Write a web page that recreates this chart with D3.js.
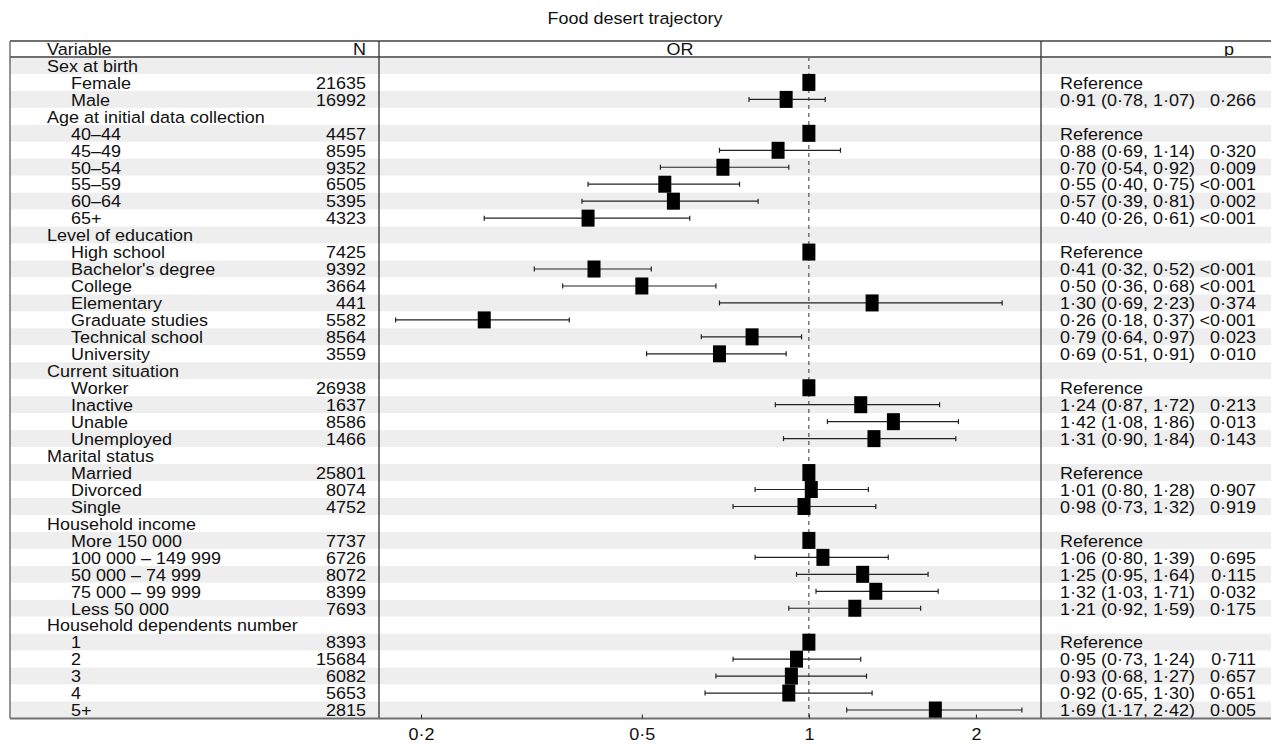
<!DOCTYPE html>
<html>
<head>
<meta charset="utf-8">
<script src="https://cdn.jsdelivr.net/npm/d3@7"></script>
<style>
body { margin: 0; background: #fff; }
text { font-family: "Liberation Sans", Arial, sans-serif; font-size: 16.5px; fill: #111; }
</style>
</head>
<body>
<svg id="chart" width="1271" height="744"></svg>
<script>
// chart data
let groupNames = ["Sex at birth", "Age at initial data collection", "Level of education",
  "Current situation", "Marital status", "Household income", "Household dependents number"];
let levelLabels = ["Female", "Male",
  "40–44", "45–49", "50–54", "55–59", "60–64", "65+",
  "High school", "Bachelor's degree", "College", "Elementary", "Graduate studies", "Technical school", "University",
  "Worker", "Inactive", "Unable", "Unemployed",
  "Married", "Divorced", "Single",
  "More 150 000", "100 000 – 149 999", "50 000 – 74 999", "75 000 – 99 999", "Less 50 000",
  "1", "2", "3", "4", "5+"];
let levelGroup = [0, 0, 1, 1, 1, 1, 1, 1, 2, 2, 2, 2, 2, 2, 2, 3, 3, 3, 3, 4, 4, 4, 5, 5, 5, 5, 5, 6, 6, 6, 6, 6];
let nValues = [21635, 16992, 4457, 8595, 9352, 6505, 5395, 4323,
  7425, 9392, 3664, 441, 5582, 8564, 3559, 26938, 1637, 8586, 1466,
  25801, 8074, 4752, 7737, 6726, 8072, 8399, 7693, 8393, 15684, 6082, 5653, 2815];
let orValues = [1, 0.91, 1, 0.88, 0.70, 0.55, 0.57, 0.40,
  1, 0.41, 0.50, 1.30, 0.26, 0.79, 0.69, 1, 1.24, 1.42, 1.31,
  1, 1.01, 0.98, 1, 1.06, 1.25, 1.32, 1.21, 1, 0.95, 0.93, 0.92, 1.69];
let ciLower = [null, 0.78, null, 0.69, 0.54, 0.40, 0.39, 0.26,
  null, 0.32, 0.36, 0.69, 0.18, 0.64, 0.51, null, 0.87, 1.08, 0.90,
  null, 0.80, 0.73, null, 0.80, 0.95, 1.03, 0.92, null, 0.73, 0.68, 0.65, 1.17];
let ciUpper = [null, 1.07, null, 1.14, 0.92, 0.75, 0.81, 0.61,
  null, 0.52, 0.68, 2.23, 0.37, 0.97, 0.91, null, 1.72, 1.86, 1.84,
  null, 1.28, 1.32, null, 1.39, 1.64, 1.71, 1.59, null, 1.24, 1.27, 1.30, 2.42];
let pValues = ["", "0·266", "", "0·320", "0·009", "<0·001", "0·002", "<0·001",
  "", "<0·001", "<0·001", "0·374", "<0·001", "0·023", "0·010", "", "0·213", "0·013", "0·143",
  "", "0·907", "0·919", "", "0·695", "0·115", "0·032", "0·175", "", "0·711", "0·657", "0·651", "0·005"];
let tickValues = [0.2, 0.5, 1, 2];

// build table rows: group header followed by its levels
let rows = [];
groupNames.forEach(function(g, gi){
  rows.push({ type: "group", label: g });
  levelLabels.forEach(function(l, i){
    if (levelGroup[i] === gi) {
      rows.push({ type: "level", label: l, n: nValues[i], or: orValues[i],
        lo: ciLower[i], hi: ciUpper[i], p: pValues[i] });
    }
  });
});

let fmt = function(v){ return d3.format(".2f")(v).replace(".", "·"); };

let svg = d3.select("#chart");
let W = 1271;
let frameLeft = 10, frameTop = 41, headBottom = 57, frameBottom = 718.5;
let colN = 379, colP = 1041;
let sx = 1.09; // the reference glyphs are a bit wide

let y = d3.scaleBand()
  .domain(d3.range(rows.length))
  .range([headBottom, frameBottom]);

let x = d3.scaleLog()
  .domain([0.168, 2.62])
  .range([colN, colP]);

// put a text with a horizontal stretch
function label(g, str, px, py, anchor){
  return g.append("text")
    .attr("transform", "translate(" + px + "," + py + ") scale(" + sx + ",1)")
    .attr("dy", "0.35em")
    .attr("text-anchor", anchor)
    .text(str);
}

// stripes
svg.append("g").selectAll("rect")
  .data(rows)
  .enter()
  .append("rect")
  .attr("x", frameLeft)
  .attr("y", (d, i) => y(i))
  .attr("width", W - frameLeft)
  .attr("height", y.bandwidth())
  .attr("fill", (d, i) => i % 2 === 0 ? "#eeeeee" : "#ffffff");

// title
label(svg, "Food desert trajectory", 635, 18, "middle");

// header
let head = svg.append("g");
label(head, "Variable", 47, 49, "start");
label(head, "N", 366, 49, "end");
label(head, "OR", 680, 49, "middle");
label(head, "p", 1229, 49, "middle");

// left and right text columns
let body = svg.append("g");
rows.forEach(function(r, i){
  let cy = y(i) + y.bandwidth() / 2 + 0.5;
  if (r.type === "group") {
    label(body, r.label, 47, cy, "start");
    return;
  }
  label(body, r.label, 71, cy, "start");
  label(body, r.n, 366, cy, "end");
  if (r.lo === null) {
    label(body, "Reference", 1060, cy, "start");
  } else {
    label(body, fmt(r.or) + " (" + fmt(r.lo) + ", " + fmt(r.hi) + ")", 1060, cy, "start");
    label(body, r.p, 1256, cy, "end");
  }
});

// reference line at OR = 1
svg.append("line")
  .attr("x1", x(1)).attr("x2", x(1))
  .attr("y1", headBottom).attr("y2", frameBottom)
  .attr("stroke", "#333")
  .attr("stroke-width", 1)
  .attr("stroke-dasharray", "4,4");

// confidence intervals
let levels = rows.map((r, i) => Object.assign({ idx: i }, r)).filter(r => r.type === "level");
let ci = svg.append("g")
  .selectAll("g")
  .data(levels.filter(r => r.lo !== null))
  .enter()
  .append("g")
  .attr("stroke", "#222")
  .attr("stroke-width", 1.2);
ci.append("line")
  .attr("x1", d => x(d.lo)).attr("x2", d => x(d.hi))
  .attr("y1", d => y(d.idx) + y.bandwidth() / 2)
  .attr("y2", d => y(d.idx) + y.bandwidth() / 2);
ci.append("line")
  .attr("x1", d => x(d.lo)).attr("x2", d => x(d.lo))
  .attr("y1", d => y(d.idx) + y.bandwidth() / 2 - 2.5)
  .attr("y2", d => y(d.idx) + y.bandwidth() / 2 + 2.5);
ci.append("line")
  .attr("x1", d => x(d.hi)).attr("x2", d => x(d.hi))
  .attr("y1", d => y(d.idx) + y.bandwidth() / 2 - 2.5)
  .attr("y2", d => y(d.idx) + y.bandwidth() / 2 + 2.5);

// point estimates
svg.append("g")
  .selectAll("rect")
  .data(levels)
  .enter()
  .append("rect")
  .attr("x", d => x(d.or) - 6.5)
  .attr("y", d => y(d.idx) + y.bandwidth() / 2 - 8.5)
  .attr("width", 13)
  .attr("height", 17)
  .attr("fill", "#000");

// frame lines
let frame = svg.append("g");
frame.append("line").attr("x1", frameLeft).attr("x2", W).attr("y1", frameTop).attr("y2", frameTop)
  .attr("stroke", "#707070").attr("stroke-width", 2);
frame.append("line").attr("x1", frameLeft).attr("x2", W).attr("y1", headBottom).attr("y2", headBottom)
  .attr("stroke", "#707070").attr("stroke-width", 2);
frame.append("line").attr("x1", frameLeft).attr("x2", frameLeft).attr("y1", frameTop).attr("y2", frameBottom)
  .attr("stroke", "#707070").attr("stroke-width", 1.5);
[colN, colP].forEach(function(cx){
  frame.append("line").attr("x1", cx).attr("x2", cx).attr("y1", frameTop).attr("y2", frameBottom)
    .attr("stroke", "#333").attr("stroke-width", 1.3);
});

// x axis
let axis = svg.append("g")
  .attr("transform", "translate(0," + frameBottom + ")")
  .call(d3.axisBottom(x)
    .tickValues(tickValues)
    .tickSizeInner(-4)
    .tickSizeOuter(0)
    .tickPadding(10)
    .tickFormat(d => String(d).replace(".", "·")));
axis.select(".domain").attr("d", "M" + frameLeft + ",0H" + W).attr("stroke", "#707070").attr("stroke-width", 2);
axis.selectAll(".tick line").attr("stroke", "#222");
axis.selectAll(".tick text")
  .attr("font-size", null)
  .attr("font-family", null)
  .attr("fill", "#111")
  .attr("transform", "scale(" + sx + ",1)");
</script>
</body>
</html>
